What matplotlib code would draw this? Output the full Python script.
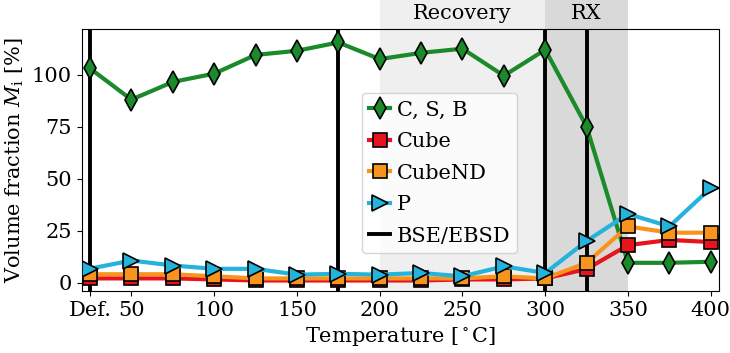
import numpy as np
import matplotlib.pyplot as plt

plt.rcParams['font.family'] = 'DejaVu Serif'
plt.rcParams['mathtext.fontset'] = 'dejavuserif'
plt.rcParams['font.size'] = 15

temps = [25, 50, 75, 100, 125, 150, 175, 200, 225, 250, 275, 300, 325, 350, 375, 400]
csb = [103, 88, 96.5, 100.5, 109.5, 111.5, 115.5, 107.5, 110.5, 112.5, 99.5, 112, 75, 9.5, 9.5, 10]
cube = [2, 2, 2, 1.5, 1, 1, 1, 1, 1, 1.5, 1.5, 2, 6.5, 18, 20.5, 19.5]
cubend = [4, 4, 4, 3, 2, 2, 2, 2, 2, 2, 3, 2, 9.5, 27, 24, 24]
p = [6.7, 10.6, 8.2, 6.6, 6.6, 3.8, 4.2, 3.8, 4.6, 3, 7.8, 4.6, 20, 33, 27, 45.5]
bse = [25, 175, 300, 325]
xticks = [25, 50, 100, 150, 200, 250, 300, 350, 400]
xticklabels = ['Def.', '50', '100', '150', '200', '250', '300', '350', '400']

fig = plt.figure(figsize=(7.3, 3.53), dpi=100)
ax = fig.add_axes([0.112, 0.176, 0.873, 0.742])

# shaded regions, reaching above the axes
ax.axvspan(200, 300, ymin=0, ymax=1.11, color='#efefef', clip_on=False, zorder=0, lw=0)
ax.axvspan(300, 350, ymin=0, ymax=1.11, color='#d9d9d9', clip_on=False, zorder=0, lw=0)
ax.text(250, 1.06, 'Recovery', transform=ax.get_xaxis_transform(), ha='center', va='center')
ax.text(325, 1.06, 'RX', transform=ax.get_xaxis_transform(), ha='center', va='center')

ax.plot(temps, csb, color='#1a8a2a', lw=3, marker='d', ms=11, mec='black', mew=1.2, label='C, S, B', zorder=3)
ax.plot(temps, cube, color='#e8141c', lw=3, marker='s', ms=9.5, mec='black', mew=1.2, label='Cube', zorder=3)
ax.plot(temps, cubend, color='#f7941d', lw=3, marker='s', ms=9.5, mec='black', mew=1.2, label='CubeND', zorder=3)
ax.plot(temps, p, color='#25b3dc', lw=3, marker='>', ms=11, mec='black', mew=1.2, label='P', zorder=3)
for i, b in enumerate(bse):
    ax.axvline(b, color='black', lw=2.8, zorder=2, label='BSE/EBSD' if i == 0 else None)

ax.set_xlim(20, 405)
ax.set_ylim(-4, 122)
ax.set_xticks(xticks)
ax.set_xticklabels(xticklabels)
ax.set_yticks([0, 25, 50, 75, 100])
ax.set_xlabel('Temperature [$^\\circ$C]')
ax.set_ylabel('Volume fraction $M_\\mathrm{i}$ [%]')
ax.legend(loc='lower left', bbox_to_anchor=(0.44, 0.145), borderaxespad=0,
          handlelength=1.0, handletextpad=0.3, labelspacing=0.6, borderpad=0.35, fontsize=15)

fig.savefig('out.png', dpi=100)
